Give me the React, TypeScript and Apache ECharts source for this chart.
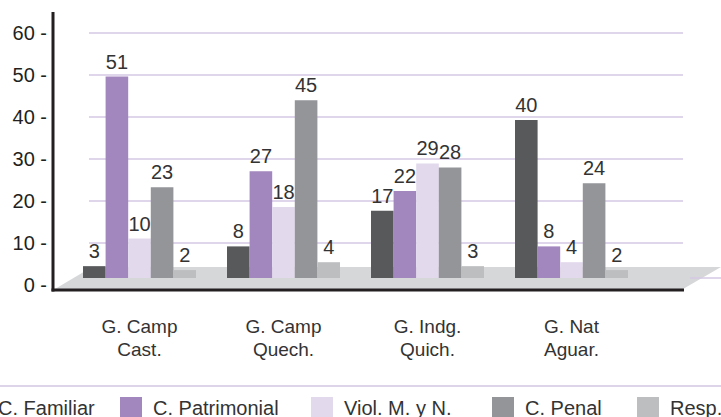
import React, { useEffect, useRef } from "react";
import * as echarts from "echarts";

const categories = ["G. Camp\nCast.", "G. Camp\nQuech.", "G. Indg.\nQuich.", "G. Nat\nAguar."];
const seriesNames = ["C. Familiar", "C. Patrimonial", "Viol. M. y N.", "C. Penal", "Resp."];
const familiar = [3, 8, 17, 40];
const patrimonial = [51, 27, 22, 8];
const violencia = [10, 18, 29, 4];
const penal = [23, 45, 28, 24];
const resp = [2, 4, 3, 2];
const yMin = 0;
const yMax = 60;
const yStep = 10;

const colors = ["#58595b", "#a286be", "#e2d9ed", "#939598", "#bcbec0"];
const seriesValues = [familiar, patrimonial, violencia, penal, resp];
const legendLefts = [-35, 120, 311, 492, 637];

const FONT = "'Liberation Sans', Arial, sans-serif";

export default function App() {
  const ref = useRef<HTMLDivElement>(null);
  useEffect(() => {
    if (!ref.current) return;
    const chart = echarts.init(ref.current, undefined, { renderer: "svg" });
    chart.setOption({
      animation: false,
      backgroundColor: "#ffffff",
      textStyle: { fontFamily: FONT },
      grid: [
        { left: 89, right: 38, top: 33, bottom: 132 },
        { left: 67.5, right: 77.5, top: 41, bottom: 139 },
      ],
      xAxis: [
        { gridIndex: 0, type: "category", data: categories, show: false },
        {
          gridIndex: 1,
          type: "category",
          data: categories,
          axisLine: { show: false },
          axisTick: { show: false },
          axisLabel: {
            margin: 37,
            fontSize: 19,
            lineHeight: 23,
            color: "#333333",
            fontFamily: FONT,
          },
        },
      ],
      yAxis: [
        {
          gridIndex: 0,
          type: "value",
          min: yMin,
          max: yMax,
          interval: yStep,
          axisLine: { show: false },
          axisTick: { show: false },
          splitLine: { show: true, lineStyle: { color: "#d4c8e4", width: 1.5 } },
          axisLabel: {
            formatter: "{value} -",
            margin: 42,
            fontSize: 20,
            color: "#231f20",
            fontFamily: FONT,
          },
        },
        { gridIndex: 1, type: "value", min: yMin, max: yMax, show: false },
      ],
      legend: seriesNames.map((n, i) => ({
        data: [n],
        left: legendLefts[i],
        top: 397,
        padding: 0,
        itemWidth: 22,
        itemHeight: 22,
        icon: "rect",
        selectedMode: false,
        textStyle: { fontSize: 20, color: "#333333", fontFamily: FONT, padding: [0, 0, 0, 6] },
      })),
      graphic: [
        {
          type: "polygon",
          z: 1,
          shape: { points: [[55, 289], [92, 267], [721, 267], [683, 289]] },
          style: { fill: "#d6d7d9" },
        },
        {
          type: "line",
          z: 1,
          shape: { x1: 690, y1: 278, x2: 721, y2: 278 },
          style: { stroke: "#d4c8e4", lineWidth: 1.5 },
        },
        {
          type: "line",
          z: 10,
          shape: { x1: 53, y1: 12, x2: 53, y2: 291.5 },
          style: { stroke: "#231f20", lineWidth: 3 },
        },
        {
          type: "line",
          z: 10,
          shape: { x1: 51.5, y1: 290, x2: 684, y2: 290 },
          style: { stroke: "#231f20", lineWidth: 3 },
        },
        {
          type: "line",
          z: 1,
          shape: { x1: 0, y1: 386, x2: 721, y2: 386 },
          style: { stroke: "#ddd4e9", lineWidth: 2 },
        },
      ],
      series: seriesNames.map((n, i) => ({
        name: n,
        type: "bar",
        xAxisIndex: 1,
        yAxisIndex: 1,
        z: 3,
        barWidth: 22.6,
        barGap: "0%",
        data: seriesValues[i],
        itemStyle: { color: colors[i] },
        label: {
          show: true,
          position: "top",
          distance: 5,
          fontSize: 20,
          color: "#333333",
          fontFamily: FONT,
        },
      })),
    });
    return () => chart.dispose();
  }, []);
  return (
    <div
      ref={ref}
      style={{ position: "fixed", left: 0, top: 0, width: 721, height: 417 }}
    />
  );
}
